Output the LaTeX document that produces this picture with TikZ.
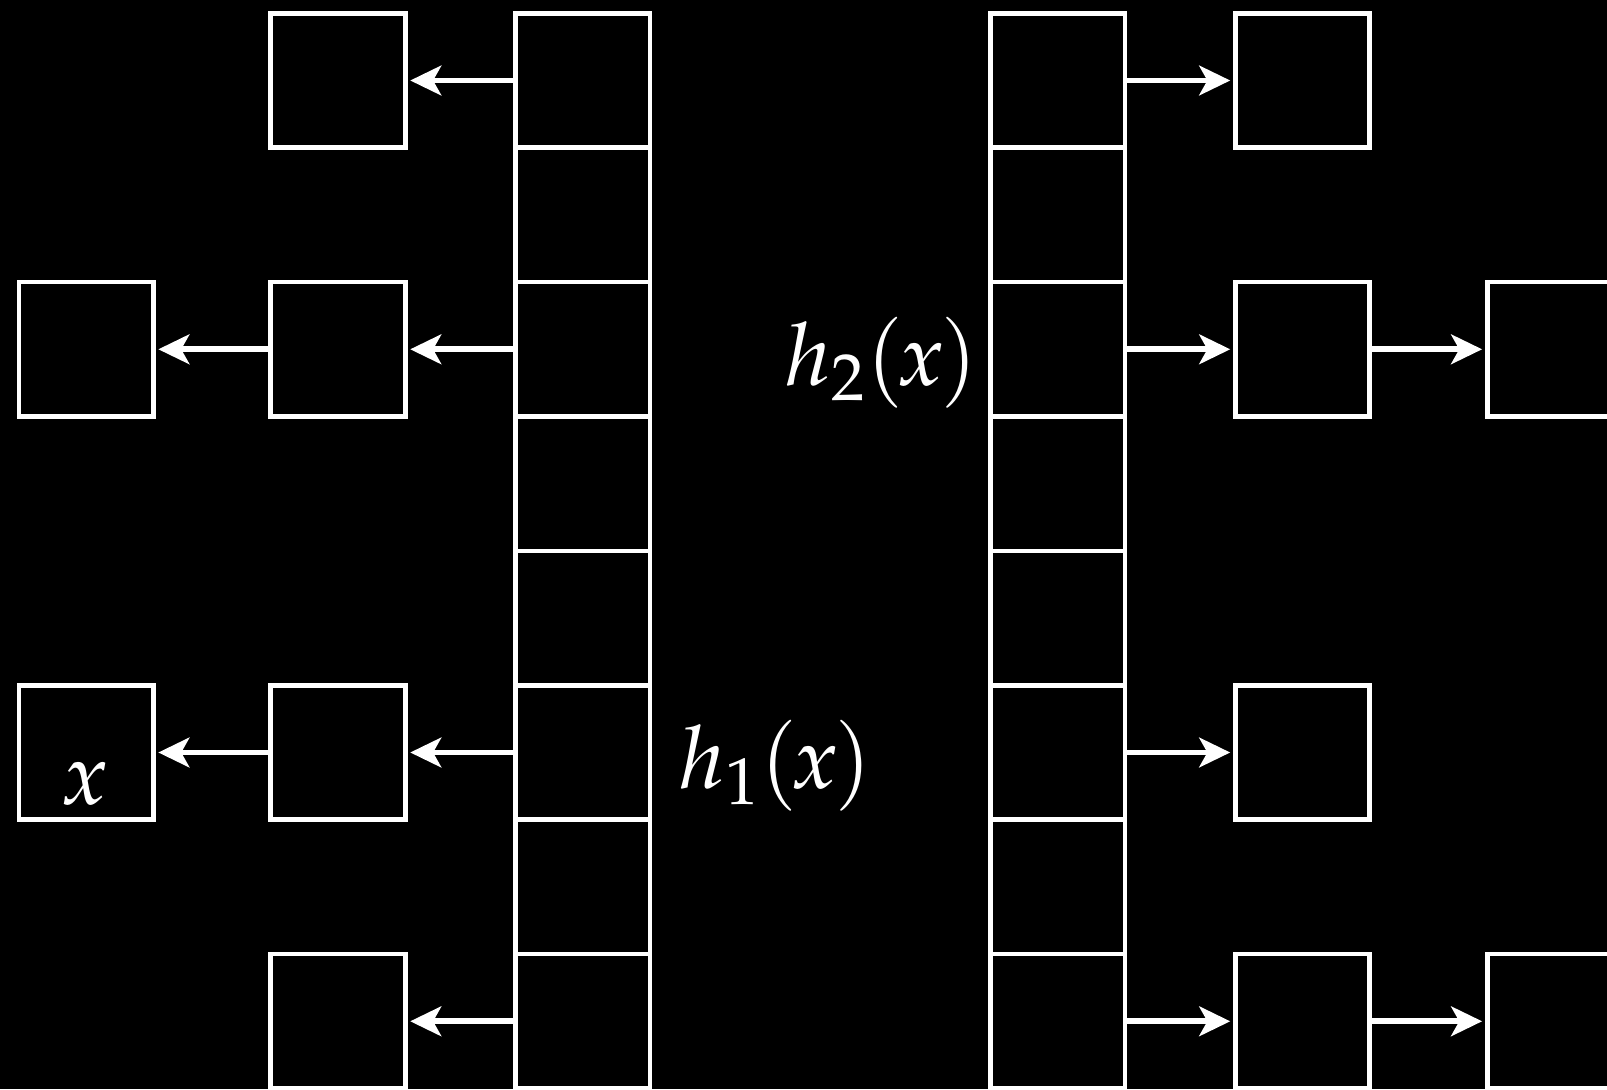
\documentclass[tikz,border=0pt]{standalone}
\usepackage{amsmath}
\usepackage{mathpazo}
\usepackage{tikz}
\usetikzlibrary{arrows.meta, positioning}
\tikzset{
  slot/.style={rectangle,draw=white,line width=1pt,minimum size=1cm,inner sep=0pt},
  bucket/.style={rectangle,draw=white,line width=1pt,minimum size=1cm,inner sep=0pt},
  chain/.style={-{Stealth[length=2.3mm,width=2.2mm,inset=0.6mm]}, line width=1.2pt, color=white, shorten >=0.2mm},
  hashlabel/.style={inner sep=0pt,text=white,font=\fontsize{18.5}{22}\selectfont}
}

\begin{document}
\begin{tikzpicture}
  \path[use as bounding box, fill=black] (0,0) rectangle (11.957,-8.103);
  \foreach \i in {0,...,7} {
    \node[slot] (s\i) at (4.336,-0.599-\i) {};
    \node[slot] (t\i) at (7.870,-0.599-\i) {};
  }
  \node[bucket, left=0.786cm of s0] (a0) {};
  \node[bucket, left=0.786cm of s2] (a2) {};
  \node[bucket, left=0.839cm of a2] (b2) {};
  \node[bucket, left=0.786cm of s5] (a5) {};
  \node[bucket, left=0.839cm of a5] (b5) {};
  \node[bucket, left=0.786cm of s7] (a7) {};
  \node[bucket, right=0.786cm of t0] (c0) {};
  \node[bucket, right=0.786cm of t2] (c2) {};
  \node[bucket, right=0.839cm of c2] (d2) {};
  \node[bucket, right=0.786cm of t5] (c5) {};
  \node[bucket, right=0.786cm of t7] (c7) {};
  \node[bucket, right=0.839cm of c7] (d7) {};
  \foreach \r in {0,2,5,7} {
    \draw[chain] (s\r) -- (a\r);
    \draw[chain] (t\r) -- (c\r);
  }
  \draw[chain] (a2) -- (b2);
  \draw[chain] (a5) -- (b5);
  \draw[chain] (c2) -- (d2);
  \draw[chain] (c7) -- (d7);
  \node[hashlabel] (xin) at ([xshift=-0.01cm, yshift=-0.23cm]b5.center) {$x$};
  \node[hashlabel, right=0.19cm of s5, yshift=-0.1cm] (h1) {$h_1(\mkern-1.5mu x\mkern-1mu)$};
  \node[hashlabel, left=0.07cm of t2, yshift=-0.1cm] (h2) {$h_2(\mkern-1.5mu x\mkern-1mu)$};
\end{tikzpicture}
\end{document}
